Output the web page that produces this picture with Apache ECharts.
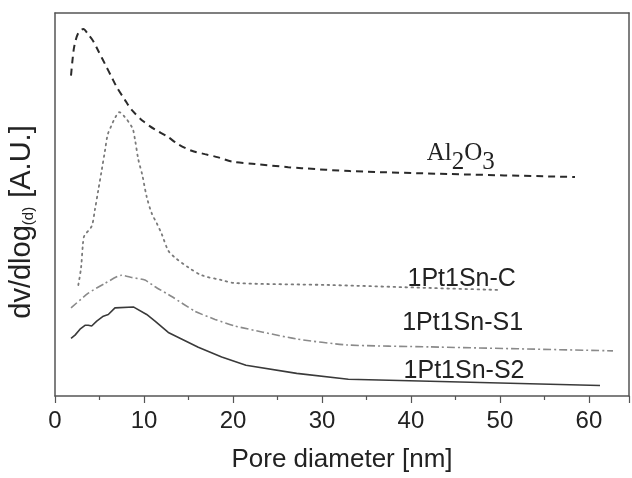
<!DOCTYPE html>
<html><head><meta charset="utf-8">
<script src="https://cdn.jsdelivr.net/npm/echarts@6/dist/echarts.min.js"></script>
<style>html,body{margin:0;padding:0;background:#fff}#c{width:632px;height:478px}</style>
</head><body><div id="c"></div>
<script>
// x: pore diameter [nm], y: arbitrary units (curves are offset)
const al2o3X = [1.80,1.94,2.17,2.62,3.18,3.74,4.30,4.87,5.62,6.37,6.93,7.87,8.62,9.92,11.24,12.55,13.85,15.36,16.85,18.35,19.85,22.47,26.21,27.72,33.15,44.38,58.43];
const al2o3Y = [323.3,336.7,353.3,366.7,370.7,365,358.3,348.3,335,321.7,311.7,298.3,288.3,276.7,268.3,261.7,253.3,246.7,243.3,240,235.7,233.3,230,229,226,223,220];
const cX = [2.62,2.92,3.15,3.29,4.12,4.49,4.87,5.25,5.62,5.92,6.37,6.74,7.22,7.67,8.69,8.99,9.36,9.81,10.30,10.87,11.43,11.99,12.73,13.48,14.98,16.48,18.73,20.22,30.90,42.13,49.78];
const cY = [110,127,153,160,170,187,207,227,247,263,273,280,286,283,270,258,238,222,200,183,173,162,145,138,128,120,115,112,110,107,105];
const s1X = [1.80,3.74,5.62,7.49,8.62,10.11,11.24,13.11,15.73,17.98,20.22,23.37,27.19,32.81,42.13,62.70];
const s1Y = [86.7,101.7,111.7,120,117.7,115,108.3,98.3,83.3,75,68.3,62,55,49,47,43];
const s2X = [1.80,2.25,2.81,3.37,3.74,4.12,4.69,5.43,5.99,6.74,8.80,10.30,11.24,12.73,16.10,18.73,21.46,27.16,32.96,42.13,61.24];
const s2Y = [55.7,59,65,69,69,68.3,73.3,78.3,80,86.7,87.7,80,73.3,61.7,46.7,36.7,28.3,20,14,12,7.7];
const labelNames = ['Al2O3','1Pt1Sn-C','1Pt1Sn-S1','1Pt1Sn-S2'];
const labelX = [45.6,45.7,45.8,45.96];
const labelY = [239,116,71,22];
const xTicks = [0,10,20,30,40,50,60];

const zip = (xs, ys) => xs.map((x, i) => [x, ys[i]]);
const chart = echarts.init(document.getElementById('c'), null, {renderer:'canvas'});
const sansLabel = {show:true, color:'#222', fontFamily:'Liberation Sans', fontSize:25};
function mp(i, extra){
  return {symbol:'circle', symbolSize:0, silent:true, animation:false,
    label: Object.assign({position:'inside'}, extra),
    data:[{coord:[labelX[i], labelY[i]], value:labelNames[i]}]};
}
const lineCol = '#555';
const boxLine = {show:true, onZero:false, lineStyle:{color:lineCol, width:1.5}};
chart.setOption({
  animation:false,
  grid:{left:55, right:3, top:13, bottom:75, show:false},
  xAxis:[{
    type:'value', min:0, max:64.5, interval:10,
    name:'Pore diameter [nm]', nameLocation:'middle', nameGap:51,
    nameTextStyle:{fontFamily:'Liberation Sans', fontSize:26, color:'#222'},
    axisLine:boxLine,
    axisTick:{show:true, inside:false, length:7, lineStyle:{color:lineCol, width:1.2}},
    minorTick:{show:true, splitNumber:2, length:4, lineStyle:{color:lineCol, width:1.2}},
    axisLabel:{fontFamily:'Liberation Sans', fontSize:24, color:'#222', margin:13, showMaxLabel:false,
      formatter: v => xTicks.includes(v) ? String(v) : ''},
    splitLine:{show:false}
  },{
    type:'value', position:'top', min:0, max:64.5,
    axisLine:boxLine,
    axisTick:{show:false}, axisLabel:{show:false}, splitLine:{show:false}
  }],
  yAxis:[{
    type:'value', min:-3, max:387,
    axisLine:boxLine,
    axisTick:{show:false}, axisLabel:{show:false}, splitLine:{show:false}
  },{
    type:'value', position:'right', min:-3, max:387,
    axisLine:boxLine,
    axisTick:{show:false}, axisLabel:{show:false}, splitLine:{show:false}
  }],
  graphic:[{
    type:'text', x:22, y:222, rotation:Math.PI/2, silent:true,
    style:{
      text:'{a|dv/dlog}{s|(d)}{a| [A.U.]}', align:'center', verticalAlign:'middle',
      rich:{
        a:{fontFamily:'Liberation Sans', fontSize:29, fill:'#222', verticalAlign:'top'},
        s:{fontFamily:'Liberation Sans', fontSize:15, fill:'#222', verticalAlign:'bottom', padding:[0,1,0,0]}
      }
    }
  }],
  series:[
    {type:'line', data:zip(al2o3X, al2o3Y), showSymbol:false, smooth:0.3,
     lineStyle:{color:'#2a2a2a', width:2, type:[7,5]},
     markPoint: mp(0, {formatter:'{a|Al}{s|2}{a|O}{s|3}', rich:{
       a:{fontFamily:'Liberation Serif', fontSize:25, color:'#222', verticalAlign:'top'},
       s:{fontFamily:'Liberation Serif', fontSize:25, color:'#222', verticalAlign:'bottom', padding:[9,0,0,0]}}})},
    {type:'line', data:zip(cX, cY), showSymbol:false, smooth:0.3,
     lineStyle:{color:'#7a7a7a', width:1.8, type:[1.6,4.4], cap:'round'},
     markPoint: mp(1, sansLabel)},
    {type:'line', data:zip(s1X, s1Y), showSymbol:false, smooth:0.2,
     lineStyle:{color:'#8a8a8a', width:1.6, type:[8,3,2,3]},
     markPoint: mp(2, sansLabel)},
    {type:'line', data:zip(s2X, s2Y), showSymbol:false,
     lineStyle:{color:'#3a3a3a', width:1.6},
     markPoint: mp(3, sansLabel)}
  ]
});
</script></body></html>
